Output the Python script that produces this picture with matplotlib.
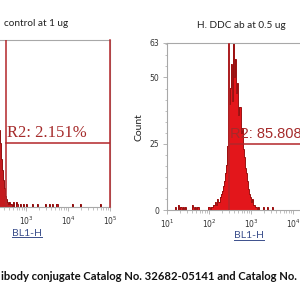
import matplotlib
matplotlib.use('Agg')
import matplotlib.pyplot as plt
import numpy as np
from matplotlib.ticker import FixedLocator, FixedFormatter, MultipleLocator, NullFormatter
from matplotlib.lines import Line2D

# ---------------- data ----------------
bin_width = 0.025          # decades per histogram channel
log_min, log_max = 1.0, 5.0

# G: isotype control (left panel) - main population, channels starting at log10 = 1.90
left_main_start = 1.90
left_main_counts = [40, 45, 50, 48, 55, 52, 58, 54, 56, 50, 49, 46, 43, 41, 37, 35,
                    33, 30, 29, 24, 18, 14, 10, 7, 4, 3, 2, 1, 2, 1, 1, 0, 1]
left_sparse_pos = [2.71, 2.76, 2.79, 2.86, 2.93, 3.02, 3.17, 3.26, 3.45, 3.57, 3.64, 3.74, 4.12, 4.29, 4.76]
left_sparse_cnt = [1, 2, 1, 1, 1, 1, 1, 1, 1, 1, 1, 1, 1, 1, 1]

# H: DDC ab (right panel) - main population, channels starting at log10 = 2.00
right_main_start = 2.00
right_main_counts = [1, 0, 1, 1, 2, 2, 3, 2, 4, 3, 5, 6, 7, 9, 11, 14, 17, 24, 70, 40,
                     46, 55, 41, 68, 50, 57, 44, 48, 36, 39, 29, 31, 23, 20, 16, 14, 11,
                     8, 6, 5, 3, 4, 2, 2, 1, 1, 0, 1]
right_sparse_pos = [1.21, 1.26, 1.30, 1.33, 1.40, 1.45, 1.60, 1.64, 1.69, 1.74, 1.98, 3.29, 3.38, 3.50]
right_sparse_cnt = [1, 2, 1, 1, 1, 1, 2, 1, 1, 1, 1, 1, 1, 1]

# gates (log10 lower bound, upper bound, marker height) and labels
left_gate = (2.52, 5.0, 24)
right_gate = (2.48, 5.0, 25)
left_gate_label = "R2: 2.151%"
right_gate_label = "R2: 85.808%"

y_max = 63
y_ticks = [0, 25, 50, 63]
x_decades = [1, 2, 3, 4, 5]
left_shown_decades = [3, 4, 5]      # decade labels that fall inside the picture
right_shown_decades = [1, 2, 3, 4]

left_title = "control at 1 ug"
right_title = "H. DDC ab at 0.5 ug"
x_label = "BL1-H"
y_label = "Count"
caption = "ibody conjugate Catalog No. 32682-05141 and Catalog No."

# ---------------- helpers ----------------
n_bins = int(round((log_max - log_min) / bin_width))
log_edges = log_min + bin_width * np.arange(n_bins + 1)
edges = 10 ** log_edges


def build_counts(start, main, spos, scnt):
    c = np.zeros(n_bins)
    i0 = int(round((start - log_min) / bin_width))
    c[i0:i0 + len(main)] += np.array(main, dtype=float)
    for p, v in zip(spos, scnt):
        c[int((p - log_min) / bin_width)] += v
    return c


left_counts = build_counts(left_main_start, left_main_counts, left_sparse_pos, left_sparse_cnt)
right_counts = build_counts(right_main_start, right_main_counts, right_sparse_pos, right_sparse_cnt)

W = H = 300.0
fig = plt.figure(figsize=(3, 3), dpi=100)
fig.patch.set_facecolor('white')

gate_col = '#b3262a'
spine_col = '#a8a8a8'
sans = ['Lato', 'DejaVu Sans']


def make_panel(rect, counts, gate, glabel, gfont, gsize, shown, show_y, fill_col, edge_col):
    ax = fig.add_axes(rect)
    ax.set_xscale('log')
    ax.set_xlim(10 ** log_min, 10 ** log_max)
    ax.set_ylim(0, y_max)
    ax.stairs(counts, edges, fill=True, color=fill_col, lw=0)
    ax.stairs(counts, edges, color=edge_col, lw=0.7)
    g0, g1, gy = gate
    ax.axvline(10 ** g0, color=gate_col, lw=1.1, zorder=5)
    ax.axvline(10 ** g1, color=gate_col, lw=1.1, zorder=5, clip_on=False)
    ax.plot([10 ** g0, 10 ** g1], [gy, gy], color=gate_col, lw=1.1, zorder=5)
    ax.text(10 ** (g0 + 0.03), gy + 0.9, glabel, color='#a52a2a', fontsize=gsize,
            family=gfont, va='bottom', ha='left', zorder=6)
    for s in ax.spines.values():
        s.set_color(spine_col)
        s.set_linewidth(0.8)
    ax.xaxis.set_major_locator(FixedLocator([10 ** d for d in x_decades]))
    ax.xaxis.set_major_formatter(FixedFormatter(
        [r'$10^{%d}$' % d if d in shown else '' for d in x_decades]))
    minors = [m * 10 ** d for d in x_decades[:-1] for m in range(2, 10)]
    ax.xaxis.set_minor_locator(FixedLocator(minors))
    ax.xaxis.set_minor_formatter(NullFormatter())
    ax.yaxis.set_major_locator(FixedLocator(y_ticks))
    ax.yaxis.set_major_formatter(FixedFormatter([str(t) if show_y else '' for t in y_ticks]))
    ax.yaxis.set_minor_locator(MultipleLocator(25 / 6))
    ax.tick_params(which='major', direction='out', length=3, width=0.6, color=spine_col,
                   labelsize=5.5, labelcolor='#333333', pad=2.5)
    ax.tick_params(which='minor', direction='out', length=1.8, width=0.5, color=spine_col)
    return ax


axL = make_panel([-58 / W, 1 - 207 / H, 168 / W, 167 / H], left_counts, left_gate,
                 left_gate_label, ['Liberation Serif'], 12, left_shown_decades, False,
                 '#c41a1e', '#8f0d0d')
axR = make_panel([167 / W, 1 - 210 / H, 168 / W, 167 / H], right_counts, right_gate,
                 right_gate_label, ['Liberation Sans'], 10.5, right_shown_decades, True,
                 '#e3161b', '#9a1010')

fig.text(68 / W, 1 - 24 / H, left_title, ha='right', va='center', fontsize=7.2,
         family=sans, color='#222222')
fig.text(241 / W, 1 - 25 / H, right_title, ha='center', va='center', fontsize=7.2,
         family=sans, color='#222222')
fig.text(139 / W, 1 - 127 / H, y_label, rotation=90, ha='center', va='center',
         fontsize=7.5, family=sans, color='#222222')

xl = []
for cx, cy in [(27, 233), (249, 236)]:
    xl.append(fig.text(cx / W, 1 - cy / H, x_label, ha='center', va='center',
                       fontsize=7.5, family=sans, color='#3b4f8c'))
fig.text(297 / W, 1 - 276 / H, caption, ha='right', va='center', fontsize=8.1,
         family=sans, weight='bold', color='#111111')

fig.canvas.draw()
r = fig.canvas.get_renderer()
for t in xl:
    bb = t.get_window_extent(r)
    fig.add_artist(Line2D([bb.x0, bb.x1], [bb.y0 + 0.5, bb.y0 + 0.5], transform=None,
                          color='#3b4f8c', lw=0.7))

fig.savefig('out.png', dpi=100)
